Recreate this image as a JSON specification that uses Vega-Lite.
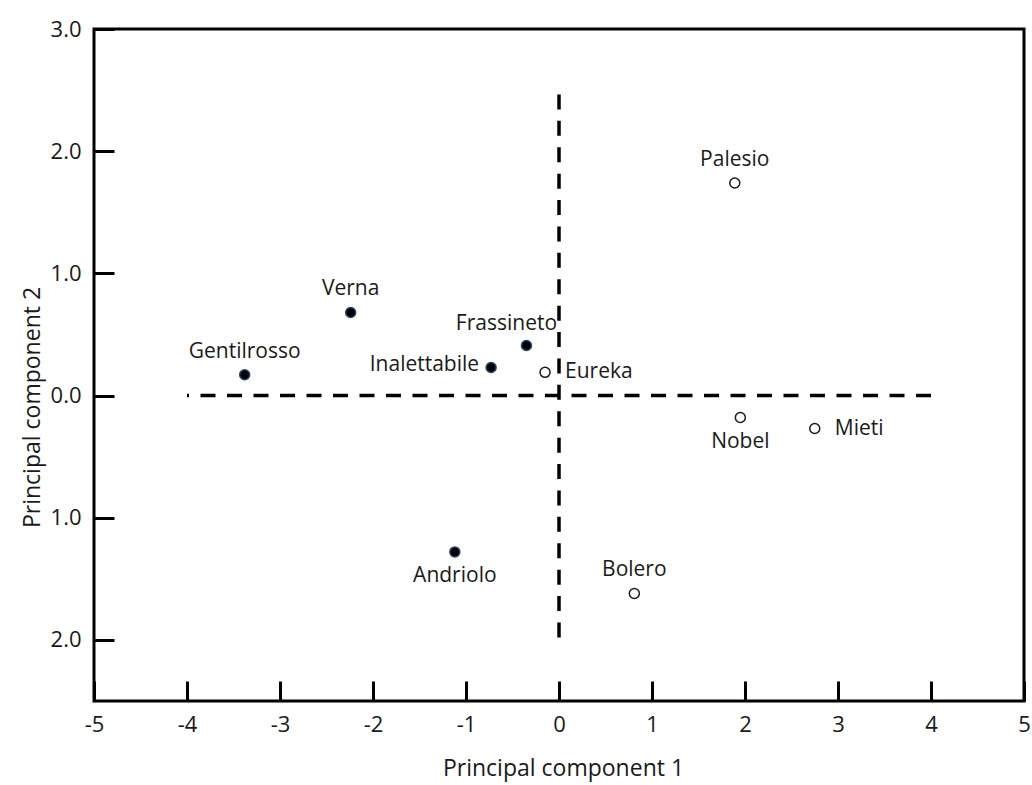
{
  "$schema": "https://vega.github.io/schema/vega-lite/v6.json",
  "width": 930,
  "height": 672,
  "autosize": {"type": "none"},
  "padding": {"left": 94, "top": 29, "right": 8, "bottom": 84},
  "background": "white",
  "config": {
    "view": {"stroke": "black", "strokeWidth": 3},
    "font": "Open Sans"
  },
  "datasets": {
    "cultivars": [
      {"cultivar": "Gentilrosso", "pc1": -3.38, "pc2": 0.17, "type": "old"},
      {"cultivar": "Verna", "pc1": -2.24, "pc2": 0.68, "type": "old"},
      {"cultivar": "Frassineto", "pc1": -0.35, "pc2": 0.41, "type": "old"},
      {"cultivar": "Inalettabile", "pc1": -0.73, "pc2": 0.23, "type": "old"},
      {"cultivar": "Andriolo", "pc1": -1.12, "pc2": -1.28, "type": "old"},
      {"cultivar": "Eureka", "pc1": -0.15, "pc2": 0.19, "type": "modern"},
      {"cultivar": "Bolero", "pc1": 0.81, "pc2": -1.62, "type": "modern"},
      {"cultivar": "Palesio", "pc1": 1.89, "pc2": 1.74, "type": "modern"},
      {"cultivar": "Nobel", "pc1": 1.95, "pc2": -0.18, "type": "modern"},
      {"cultivar": "Mieti", "pc1": 2.75, "pc2": -0.27, "type": "modern"}
    ]
  },
  "layer": [
    {
      "data": {"values": [{"pc1": -4, "pc1_end": 4, "pc2": 0}]},
      "mark": {"type": "rule", "stroke": "black", "strokeWidth": 3.5, "strokeDash": [15, 11.5], "strokeDashOffset": 13},
      "encoding": {
        "x": {"field": "pc1", "type": "quantitative", "scale": {"domain": [-5, 5], "nice": false, "zero": false},
          "axis": {"title": "Principal component 1", "values": [-5, -4, -3, -2, -1, 0, 1, 2, 3, 4, 5], "labelExpr": "datum.value < 0 ? '-' + abs(datum.value) : '' + datum.value", "domain": false, "grid": false, "tickSize": -20, "tickWidth": 3, "tickColor": "black", "labelPadding": 33, "labelFontSize": 22, "labelColor": "#1a1a1a", "labelFont": "Open Sans", "labelFlush": false, "titleFontSize": 23, "titleFont": "Open Sans", "titleFontWeight": "normal", "titleColor": "#1a1a1a", "titlePadding": 22, "titleX": 469}},
        "x2": {"field": "pc1_end"},
        "y": {"field": "pc2", "type": "quantitative", "scale": {"domain": [-2.5, 3], "nice": false, "zero": false},
          "axis": {"title": "Principal component 2", "values": [-2, -1, 0, 1, 2, 3], "labelExpr": "format(abs(datum.value), '.1f')", "domain": false, "grid": false, "tickSize": -20, "tickWidth": 3, "tickColor": "black", "labelPadding": 33, "labelFontSize": 22, "labelColor": "#1a1a1a", "labelFont": "Open Sans", "labelFlush": false, "titleFontSize": 23, "titleFont": "Open Sans", "titleFontWeight": "normal", "titleColor": "#1a1a1a", "titlePadding": 6, "titleY": 378}}
      }
    },
    {
      "data": {"values": [{"pc1": 0, "pc2": -1.98, "pc2_end": 2.47}]},
      "mark": {"type": "rule", "stroke": "black", "strokeWidth": 3.5, "strokeDash": [15, 11.4]},
      "encoding": {
        "x": {"field": "pc1", "type": "quantitative", "title": "Principal component 1"},
        "y": {"field": "pc2", "type": "quantitative", "title": "Principal component 2"},
        "y2": {"field": "pc2_end"}
      }
    },
    {
      "data": {"name": "cultivars"},
      "mark": {"type": "point", "filled": true, "size": 100, "strokeWidth": 1.5, "opacity": 1},
      "encoding": {
        "x": {"field": "pc1", "type": "quantitative", "title": "Principal component 1"},
        "y": {"field": "pc2", "type": "quantitative", "title": "Principal component 2"},
        "fill": {"field": "type", "type": "nominal", "scale": {"domain": ["old", "modern"], "range": ["black", "white"]}, "legend": null},
        "stroke": {"field": "type", "type": "nominal", "scale": {"domain": ["old", "modern"], "range": ["#27476b", "#1a1a1a"]}, "legend": null}
      }
    },
    {
      "data": {"name": "cultivars"},
      "transform": [{"filter": {"field": "cultivar", "oneOf": ["Gentilrosso", "Verna", "Bolero", "Palesio"]}}],
      "mark": {"type": "text", "align": "center", "baseline": "middle", "dy": -23, "fontSize": 21, "font": "Open Sans", "color": "#1a1a1a"},
      "encoding": {
        "x": {"field": "pc1", "type": "quantitative"},
        "y": {"field": "pc2", "type": "quantitative"},
        "text": {"field": "cultivar"}
      }
    },
    {
      "data": {"name": "cultivars"},
      "transform": [{"filter": {"field": "cultivar", "equal": "Frassineto"}}],
      "mark": {"type": "text", "align": "center", "baseline": "middle", "dy": -21, "dx": -20, "fontSize": 21, "font": "Open Sans", "color": "#1a1a1a"},
      "encoding": {
        "x": {"field": "pc1", "type": "quantitative"},
        "y": {"field": "pc2", "type": "quantitative"},
        "text": {"field": "cultivar"}
      }
    },
    {
      "data": {"name": "cultivars"},
      "transform": [{"filter": {"field": "cultivar", "oneOf": ["Andriolo", "Nobel"]}}],
      "mark": {"type": "text", "align": "center", "baseline": "middle", "dy": 24, "fontSize": 21, "font": "Open Sans", "color": "#1a1a1a"},
      "encoding": {
        "x": {"field": "pc1", "type": "quantitative"},
        "y": {"field": "pc2", "type": "quantitative"},
        "text": {"field": "cultivar"}
      }
    },
    {
      "data": {"name": "cultivars"},
      "transform": [{"filter": {"field": "cultivar", "equal": "Inalettabile"}}],
      "mark": {"type": "text", "align": "right", "baseline": "middle", "dx": -12, "dy": -2, "fontSize": 21, "font": "Open Sans", "color": "#1a1a1a"},
      "encoding": {
        "x": {"field": "pc1", "type": "quantitative"},
        "y": {"field": "pc2", "type": "quantitative"},
        "text": {"field": "cultivar"}
      }
    },
    {
      "data": {"name": "cultivars"},
      "transform": [{"filter": {"field": "cultivar", "oneOf": ["Eureka", "Mieti"]}}],
      "mark": {"type": "text", "align": "left", "baseline": "middle", "dx": 20, "fontSize": 21, "font": "Open Sans", "color": "#1a1a1a"},
      "encoding": {
        "x": {"field": "pc1", "type": "quantitative"},
        "y": {"field": "pc2", "type": "quantitative"},
        "text": {"field": "cultivar"}
      }
    }
  ]
}
